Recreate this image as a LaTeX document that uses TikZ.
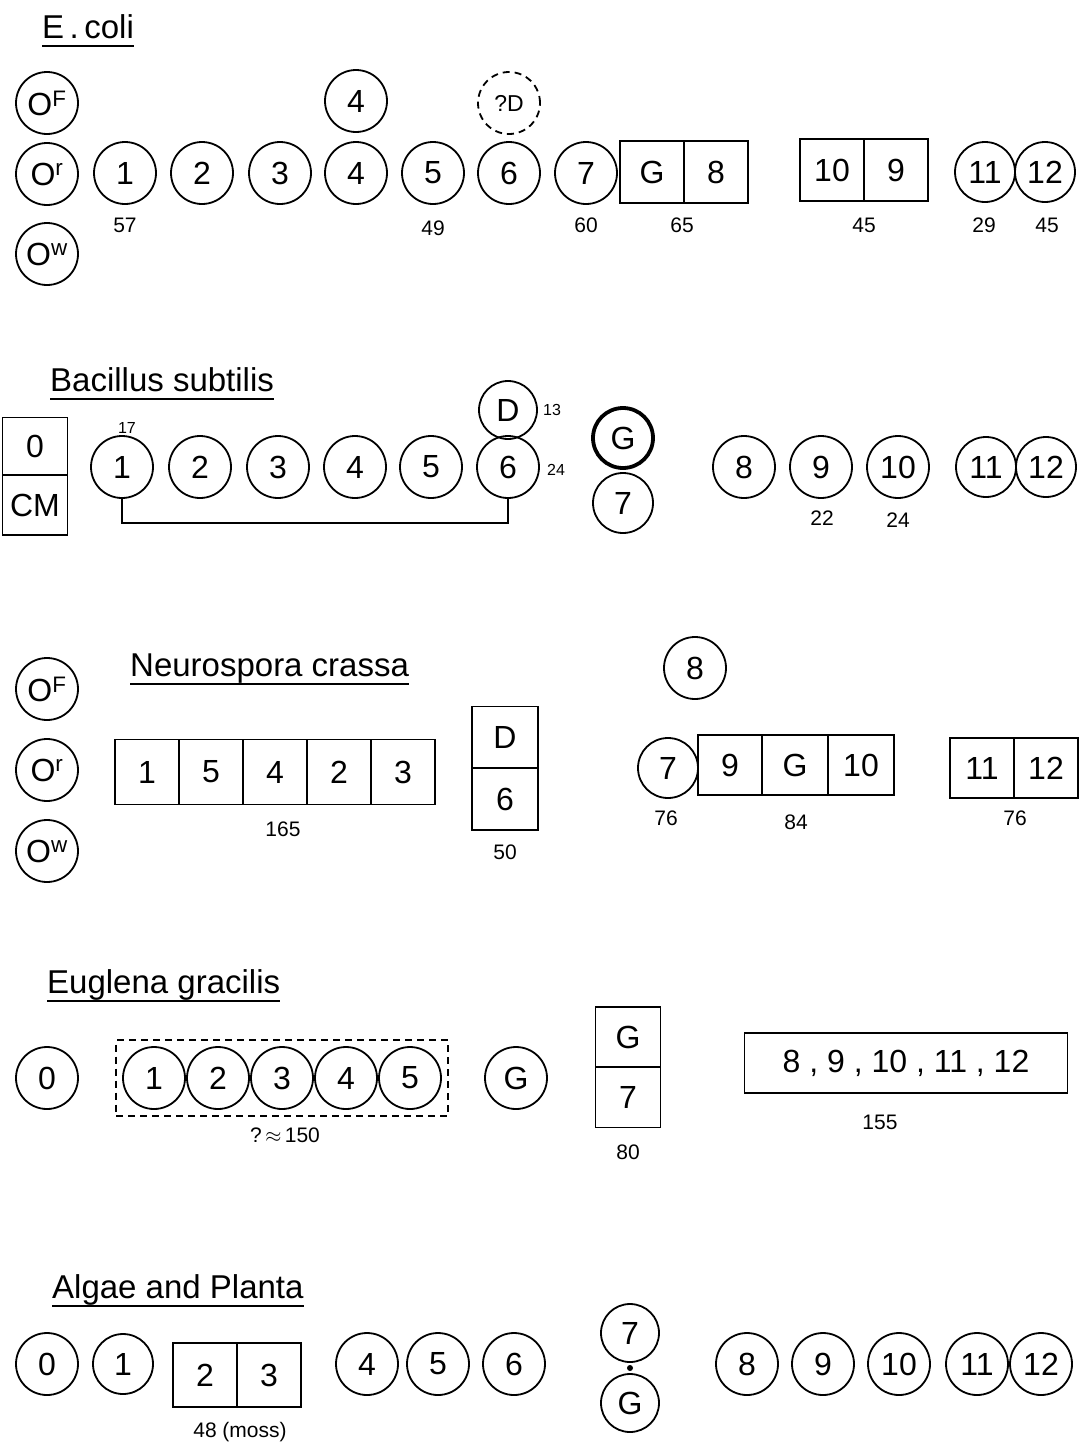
\documentclass[tikz,border=0pt]{standalone}
\usepackage{fontspec}
\setmainfont{Liberation Sans}
\usetikzlibrary{calc, fit}
\newcommand{\genesize}{\fontsize{32}{36}\selectfont}
\newcommand{\notesize}{\fontsize{21}{24}\selectfont}
\newcommand{\smallnote}{\fontsize{16}{18}\selectfont}
\newcommand{\titlesize}{\fontsize{33}{36}\selectfont}

\tikzset{
  gene/.style={circle, draw, line width=1.8pt, minimum size=62pt, inner sep=0pt, font=\genesize},
  cell/.style={rectangle, draw, line width=1.8pt, minimum width=64pt, minimum height=62pt, inner sep=0pt, font=\genesize},
  note/.style={font=\notesize, inner sep=1pt},
  heading/.style={font=\titlesize, anchor=base west, inner sep=0pt},
  underline/.style={line width=1.6pt},
  longdash/.style={dash pattern=on 7pt off 5pt},
}

\begin{document}
\begin{tikzpicture}[x=1pt, y=-1pt]
  \useasboundingbox (0,0) rectangle (1082,1448);

  % E. coli
  \node[heading] (tEcoli) at (42,38) {E\,.\,coli};
  \node[gene] (eOF) at (47,103) {O\textsuperscript{F}};
  \node[gene] (eOr) at (47,174) {O\textsuperscript{r}};
  \node[gene] (eOw) at (47,254) {O\textsuperscript{w}};
  \node[gene] (e1) at (125,173) {1};
  \node[gene] (e2) at (202,173) {2};
  \node[gene] (e3) at (280,173) {3};
  \node[gene] (e4) at (356,173) {4};
  \node[gene] (e4top) at (356,101) {4};
  \node[gene] (e5) at (433,173) {5};
  \node[gene] (e6) at (509,173) {6};
  \node[gene, longdash, font=\fontsize{23}{26}\selectfont] (eD) at (509,103) {?D};
  \node[gene] (e7) at (586,173) {7};
  \node[cell] (eG) at (652,172) {G};
  \node[cell] (e8) at (716,172) {8};
  \node[cell] (e10) at (832,170) {10};
  \node[cell] (e9) at (896,170) {9};
  \node[gene, minimum size=60pt] (e11) at (985,172) {11};
  \node[gene, minimum size=60pt] (e12) at (1045,172) {12};
  \node[note] (n57) at (125,225) {57};
  \node[note] (n49) at (433,228) {49};
  \node[note] (n60) at (586,225) {60};
  \node[note] (n65) at (682,225) {65};
  \node[note] (n45a) at (864,225) {45};
  \node[note] (n29) at (984,225) {29};
  \node[note] (n45b) at (1047,225) {45};

  % Bacillus subtilis
  \node[heading] (tBac) at (50,391) {Bacillus subtilis};
  \node[cell, minimum width=65pt, minimum height=57pt] (bO) at (35,446) {0};
  \node[cell, minimum width=65pt, minimum height=60pt] (bCM) at (35,505) {CM};
  \node[gene] (b1) at (122,467) {1};
  \node[gene] (b2) at (200,467) {2};
  \node[gene] (b3) at (278,467) {3};
  \node[gene] (b4) at (355,467) {4};
  \node[gene] (b5) at (431,467) {5};
  \node[gene] (b6) at (508,467) {6};
  \node[gene, minimum size=58pt] (bD) at (508,410) {D};
  \node[gene, line width=3.8pt, minimum size=60pt] (bG) at (623,438) {G};
  \node[gene, minimum size=60pt] (b7) at (623,503) {7};
  \node[gene] (b8) at (744,467) {8};
  \node[gene] (b9) at (821,467) {9};
  \node[gene] (b10) at (898,467) {10};
  \node[gene, minimum size=60pt] (b11) at (986,467) {11};
  \node[gene, minimum size=60pt] (b12) at (1046,467) {12};
  \draw[line width=1.8pt] (b1.south) -- ++(0,24) -| (b6.south);
  \node[note, font=\smallnote] (n17) at (127,428) {17};
  \node[note, font=\smallnote] (n13) at (552,410) {13};
  \node[note, font=\smallnote] (n24a) at (556,470) {24};
  \node[note] (n22) at (822,518) {22};
  \node[note] (n24b) at (898,520) {24};

  % Neurospora crassa
  \node[heading] (tNeu) at (130,676) {Neurospora crassa};
  \node[gene] (nOF) at (47,689) {O\textsuperscript{F}};
  \node[gene] (nOr) at (47,770) {O\textsuperscript{r}};
  \node[gene] (nOw) at (47,851) {O\textsuperscript{w}};
  \node[cell, minimum height=65pt] (n1) at (147,772) {1};
  \node[cell, minimum height=65pt] (n5) at (211,772) {5};
  \node[cell, minimum height=65pt] (n4) at (275,772) {4};
  \node[cell, minimum height=65pt] (n2) at (339,772) {2};
  \node[cell, minimum height=65pt] (n3) at (403,772) {3};
  \node[cell, minimum width=66pt, minimum height=61pt] (nD) at (505,737) {D};
  \node[cell, minimum width=66pt, minimum height=62pt] (n6) at (505,799) {6};
  \node[gene] (n8) at (695,668) {8};
  \node[gene, minimum size=60pt] (n7) at (668,768) {7};
  \node[cell, minimum width=64pt, minimum height=60pt] (n9) at (730,765) {9};
  \node[cell, minimum width=66pt, minimum height=60pt] (nG) at (795,765) {G};
  \node[cell, minimum width=66pt, minimum height=60pt] (n10) at (861,765) {10};
  \node[cell, minimum height=60pt] (n11) at (982,768) {11};
  \node[cell, minimum height=60pt] (n12) at (1046,768) {12};
  \node[note] (n165) at (283,829) {165};
  \node[note] (n50) at (505,852) {50};
  \node[note] (n76a) at (666,818) {76};
  \node[note] (n84) at (796,822) {84};
  \node[note] (n76b) at (1015,818) {76};

  % Euglena gracilis
  \node[heading] (tEug) at (47,993) {Euglena gracilis};
  \node[gene] (g0) at (47,1078) {0};
  \node[gene] (g1) at (154,1078) {1};
  \node[gene] (g2) at (218,1078) {2};
  \node[gene] (g3) at (282,1078) {3};
  \node[gene] (g4) at (346,1078) {4};
  \node[gene] (g5) at (410,1078) {5};
  \node[draw, longdash, line width=1.8pt, inner sep=6pt, fit=(g1)(g5)] (gbox) {};
  \node[gene] (gG) at (516,1078) {G};
  \node[cell, minimum width=65pt, minimum height=60pt] (gGc) at (628,1037) {G};
  \node[cell, minimum width=65pt, minimum height=61pt] (g7) at (628,1097) {7};
  \node[cell, minimum width=323pt, minimum height=60pt] (grest) at (906,1063) {8 , 9 , 10 , 11 , 12};
  \node[note] (n150) at (285,1135) {?\,$\approx$\,150};
  \node[note] (n80) at (628,1152) {80};
  \node[note] (n155) at (880,1122) {155};

  % Algae and Planta
  \node[heading] (tAlg) at (52,1298) {Algae and Planta};
  \node[gene] (a0) at (47,1364) {0};
  \node[gene, minimum size=60pt] (a1) at (123,1364) {1};
  \node[cell, minimum height=64pt] (a2) at (205,1375) {2};
  \node[cell, minimum height=64pt] (a3) at (269,1375) {3};
  \node[gene] (a4) at (367,1364) {4};
  \node[gene] (a5) at (438,1364) {5};
  \node[gene] (a6) at (514,1364) {6};
  \node[gene, minimum size=58pt] (a7) at (630,1333) {7};
  \node[gene, minimum size=58pt] (aG) at (630,1403) {G};
  \fill ($(a7.south)!0.5!(aG.north)$) circle (3pt);
  \node[gene] (a8) at (747,1364) {8};
  \node[gene] (a9) at (823,1364) {9};
  \node[gene] (a10) at (899,1364) {10};
  \node[gene] (a11) at (977,1364) {11};
  \node[gene] (a12) at (1041,1364) {12};
  \node[note] (n48) at (240,1432) {48 (moss)};

  % underlines of the headings
  \foreach \t in {tEcoli, tBac, tNeu, tEug, tAlg}
    \draw[underline] ([yshift=-8pt]\t.base west) -- ([yshift=-8pt]\t.base east);
\end{tikzpicture}
\end{document}
